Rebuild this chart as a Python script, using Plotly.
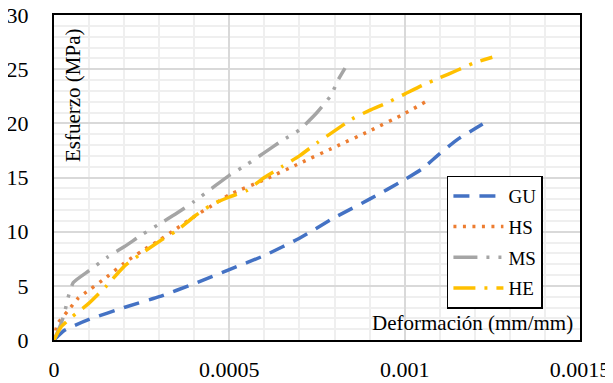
import plotly.graph_objects as go

# Data
gu_x = [0, 0.00003, 0.0001, 0.0002, 0.0003, 0.0004, 0.0005, 0.0006, 0.0007, 0.0008, 0.0009, 0.001, 0.00105, 0.0011, 0.00115, 0.0012, 0.00123]
gu_y = [0, 0.9, 1.9, 3.0, 4.0, 5.2, 6.5, 7.8, 9.4, 11.3, 13.0, 14.8, 15.8, 17.2, 18.5, 19.5, 20.1]

hs_x = [0, 0.00001, 0.00004, 0.00007, 0.0001, 0.00015, 0.0002, 0.00025, 0.0003, 0.00035, 0.0004, 0.00045, 0.0005, 0.0006, 0.0007, 0.0008, 0.0009, 0.001, 0.00106]
hs_y = [0, 1.5, 2.7, 3.9, 4.6, 5.8, 7.1, 8.2, 9.2, 10.3, 11.4, 12.4, 13.4, 14.8, 16.3, 17.8, 19.3, 20.9, 22.0]

ms_x = [0, 0.00002, 0.00003, 0.00004, 0.000055, 0.0001, 0.00015, 0.0002, 0.00025, 0.0003, 0.00035, 0.0004, 0.00045, 0.0005, 0.00055, 0.0006, 0.00065, 0.0007, 0.00075, 0.00079, 0.00081, 0.00083]
ms_y = [0, 1.5, 2.5, 3.9, 5.3, 6.4, 7.6, 8.6, 9.7, 10.7, 11.7, 12.8, 14.0, 15.2, 16.2, 17.3, 18.4, 19.4, 21.0, 22.6, 24.0, 25.1]

he_x = [0, 0.00002, 0.00005, 0.0001, 0.00015, 0.0002, 0.00025, 0.0003, 0.00035, 0.0004, 0.00045, 0.0005, 0.00055, 0.0006, 0.00065, 0.0007, 0.00075, 0.0008, 0.00085, 0.0009, 0.00095, 0.001, 0.00105, 0.0011, 0.00115, 0.0012, 0.00125]
he_y = [0, 1.2, 2.1, 3.4, 5.0, 6.8, 8.0, 9.1, 10.1, 11.4, 12.5, 13.2, 13.8, 15.0, 16.0, 17.0, 18.2, 19.3, 20.4, 21.2, 21.9, 22.7, 23.5, 24.2, 24.9, 25.6, 26.1]

series_names = ["GU", "HS", "MS", "HE"]
x_tickvals = [0, 0.0005, 0.001, 0.0015]
x_ticktext = ["0", "0.0005", "0.001", "0.0015"]
y_tickvals = [0, 5, 10, 15, 20, 25, 30]

FONT = "Liberation Serif"
colors = ["#4472C4", "#ED7D31", "#A5A5A5", "#FFC000"]
dashes = ["16px,10px", "3px,6.5px", "24px,9px,3px,9px,3px,9px", "22px,9px,3px,9px"]
data = [(gu_x, gu_y), (hs_x, hs_y), (ms_x, ms_y), (he_x, he_y)]

fig = go.Figure()
for name, (xs, ys), c, d in zip(series_names, data, colors, dashes):
    fig.add_trace(go.Scatter(
        x=xs, y=ys, mode="lines", name=name, legendgroup=name,
        line=dict(color=c, width=3.5, dash=d, shape="spline", smoothing=0.5),
    ))

fig.update_layout(
    width=605, height=375,
    margin=dict(l=46, r=33, t=7, b=43),
    paper_bgcolor="white", plot_bgcolor="white",
    font=dict(family=FONT, color="black"),
    showlegend=True,
    legend=dict(
        x=0.747, y=0.506, xanchor="left", yanchor="top",
        bgcolor="white", bordercolor="black", borderwidth=1.5,
        font=dict(family=FONT, size=19, color="black"),
        itemwidth=50, tracegroupgap=3,
    ),
    xaxis=dict(
        range=[0, 0.0015], tickvals=x_tickvals, ticktext=x_ticktext,
        showgrid=True, gridcolor="#D9D9D9", gridwidth=1.5,
        minor=dict(dtick=0.0001, showgrid=True, gridcolor="#EFEFEF", gridwidth=2),
        showline=True, linecolor="black", linewidth=2, mirror=True,
        ticks="outside", ticklen=9, tickcolor="rgba(0,0,0,0)",
        tickfont=dict(family=FONT, size=22, color="black"),
        zeroline=False, automargin=False, ticklabeloverflow="allow",
    ),
    yaxis=dict(
        range=[0, 30], tickvals=y_tickvals,
        showgrid=True, gridcolor="#D9D9D9", gridwidth=1.5,
        minor=dict(dtick=1, showgrid=True, gridcolor="#EFEFEF", gridwidth=2),
        showline=True, linecolor="black", linewidth=2, mirror=True,
        ticks="outside", ticklen=19, tickcolor="rgba(0,0,0,0)",
        tickfont=dict(family=FONT, size=22, color="black"),
        zeroline=False, automargin=False, ticklabeloverflow="allow",
    ),
    annotations=[
        dict(text="Esfuerzo (MPa)", x=0.035, y=0.755, xref="paper", yref="paper",
             textangle=-90, showarrow=False, font=dict(family=FONT, size=21, color="black"),
             xanchor="center", yanchor="middle"),
        dict(text="Deformación (mm/mm)", x=0.99, y=0.053, xref="paper", yref="paper",
             showarrow=False, font=dict(family=FONT, size=21, color="black"),
             xanchor="right", yanchor="middle"),
    ],
)

fig.write_html("out.html")
